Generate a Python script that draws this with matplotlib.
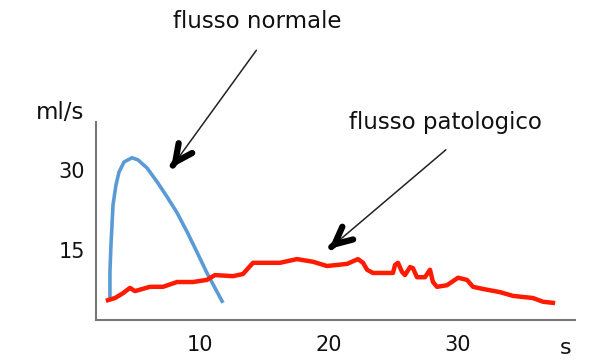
import numpy as np
from matplotlib import pyplot as plt

# curva normale (ml/s nel tempo)
t_norm = [3.02, 3.02, 3.10, 3.18, 3.26, 3.49, 3.72, 4.11, 4.73, 5.19, 5.89, 6.67, 7.44,
          8.22, 9.00, 9.77, 10.54, 11.16, 11.78]
q_norm = [6.0, 10.9, 15.9, 19.7, 23.5, 27.2, 29.6, 31.5, 32.3, 31.9, 30.4, 27.8, 25.0,
          22.0, 18.4, 14.6, 10.7, 7.9, 5.1]

# curva patologica
t_pat = [2.87, 3.41, 4.03, 4.57, 4.96, 6.12, 7.13, 8.22, 9.46, 10.54, 11.16, 12.56, 13.33,
         14.11, 16.20, 17.52, 18.76, 19.84, 21.40, 22.25, 22.64, 22.95, 23.41, 24.96, 25.12,
         25.35, 25.66, 25.89, 26.28, 26.51, 26.82, 27.44, 27.83, 28.06, 28.37, 29.15, 30.0,
         30.70, 31.16, 31.94, 33.26, 34.26, 35.81, 36.59, 37.36]
q_pat = [5.6, 6.0, 6.9, 7.9, 7.3, 8.1, 8.1, 9.0, 9.0, 9.4, 10.3, 10.1, 10.5,
         12.6, 12.6, 13.3, 12.8, 12.0, 12.4, 13.3, 12.6, 11.3, 10.7, 10.7, 12.2,
         12.6, 10.9, 10.3, 11.8, 11.6, 9.9, 9.9, 11.3, 9.0, 8.1, 8.4, 9.8,
         9.4, 8.1, 7.7, 7.1, 6.4, 6.0, 5.3, 5.1]

xticks = [10, 20, 30]
yticks = [15, 30]

fig = plt.figure(figsize=(6.0, 3.63), dpi=100)
ax = fig.add_axes([96 / 600, 43 / 363, 479 / 600, 198 / 363])

ax.plot(t_norm, q_norm, color='#5b9bd5', lw=2.6, solid_capstyle='butt', solid_joinstyle='round')
ax.plot(t_pat, q_pat, color='#ff1a00', lw=3.2, solid_joinstyle='round')

ax.set_xlim(1.94, 39.07)
ax.set_ylim(1.88, 39.0)

for s in ['top', 'right']:
    ax.spines[s].set_visible(False)
for s in ['left', 'bottom']:
    ax.spines[s].set_color('#777777')
    ax.spines[s].set_linewidth(1.5)

ax.set_xticks(xticks)
ax.set_xticklabels([str(v) for v in xticks])
ax.set_yticks(yticks)
ax.set_yticklabels([str(v) for v in yticks])
ax.tick_params(length=0, labelsize=15, colors='#111111')
ax.tick_params(axis='x', pad=11)
ax.tick_params(axis='y', pad=8)

ax.text(-0.025, 1.05, 'ml/s', transform=ax.transAxes, ha='right', va='center',
        fontsize=16.5, color='#111111')
ax.text(0.98, -0.14, 's', transform=ax.transAxes, ha='center', va='center',
        fontsize=16, color='#111111')

# frecce con punta spessa
def freccia(testo, xy_txt, xy_punta, xy_inizio):
    ax.annotate(testo, xy=xy_txt, xycoords='figure pixels', ha='center', va='center',
                fontsize=16.5, color='#111111')
    ax.annotate('', xy=xy_punta, xycoords='figure pixels', xytext=xy_inizio,
                textcoords='figure pixels',
                arrowprops=dict(arrowstyle='-', lw=1.1, color='#222222'))
    dx = xy_inizio[0] - xy_punta[0]
    dy = xy_inizio[1] - xy_punta[1]
    n = np.hypot(dx, dy)
    corto = (xy_punta[0] + dx / n * 3, xy_punta[1] + dy / n * 3)
    ax.annotate('', xy=xy_punta, xycoords='figure pixels', xytext=corto,
                textcoords='figure pixels',
                arrowprops=dict(arrowstyle='->,head_length=1.25,head_width=0.6',
                                lw=4.5, color='black', shrinkA=0, shrinkB=0))

freccia('flusso normale', (257, 363 - 22), (171, 363 - 168), (258, 363 - 48))
freccia('flusso patologico', (445, 363 - 123), (329, 363 - 249), (448, 363 - 148))

fig.savefig('out.png', dpi=100)
